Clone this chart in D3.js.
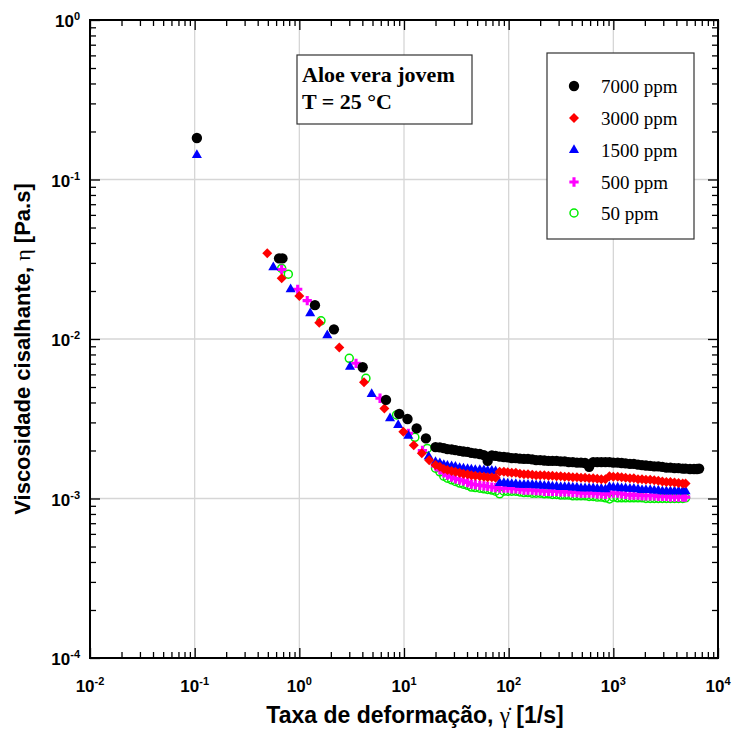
<!DOCTYPE html>
<html>
<head>
<meta charset="utf-8">
<script src="https://cdn.jsdelivr.net/npm/d3@7/dist/d3.min.js"></script>
<style>
  body { margin: 0; background: #fff; }
  svg { display: block; }
</style>
</head>
<body>
<div id="chart"></div>
<script>
// shear rate grid shared by the dense part of every curve [1/s]
const rateDense = [20, 22, 24, 26, 28.5, 31, 34, 37, 40.5, 44,
  48, 53, 58, 63, 69, 75, 82, 90, 98, 107,
  117, 128, 140, 153, 168, 183, 200, 219, 240, 262,
  287, 314, 343, 375, 410, 449, 491, 537, 587, 642,
  702, 768, 840, 918, 1000, 1100, 1200, 1310, 1440, 1570,
  1720, 1880, 2050, 2250, 2460, 2690, 2940, 3210, 3510, 3840,
  4200, 4600, 4900];

// 7000 ppm
const rate7000 = [0.105, 0.64, 0.69, 1.41, 2.14, 4.03, 6.73, 9.0, 10.8, 13.2, 16.2];
const eta7000 = [0.182, 0.032, 0.032, 0.0163, 0.0115, 0.00665, 0.00415, 0.00339, 0.00315, 0.00275, 0.00238];
const etaDense7000 = [0.00210, 0.00209, 0.00207, 0.00204, 0.00203, 0.00201, 0.00199, 0.00197, 0.00196, 0.00193,
  0.00192, 0.00190, 0.00187, 0.00172, 0.00186, 0.00185, 0.00183, 0.00182, 0.00181, 0.00179,
  0.00179, 0.00178, 0.00177, 0.00177, 0.00176, 0.00174, 0.00174, 0.00173, 0.00172, 0.00172,
  0.00172, 0.00171, 0.00171, 0.00169, 0.00169, 0.00168, 0.00168, 0.00167, 0.00158, 0.00169,
  0.00169, 0.00169, 0.00169, 0.00169, 0.00168, 0.00168, 0.00167, 0.00166, 0.00165, 0.00165,
  0.00163, 0.00162, 0.00161, 0.00160, 0.00159, 0.00159, 0.00158, 0.00156, 0.00156, 0.00155,
  0.00155, 0.00154, 0.00154];
const rateTail7000 = [5400, 5900, 6300, 6600];
const etaTail7000 = [0.00153, 0.00153, 0.00153, 0.00154];

// 3000 ppm
const rate3000 = [0.494, 0.678, 1.0, 1.55, 2.41, 4.15, 6.49, 9.85, 12.4, 14.8, 17.4];
const eta3000 = [0.0345, 0.024, 0.0186, 0.01265, 0.00883, 0.00535, 0.00367, 0.00262, 0.00216, 0.00192, 0.00174];
const etaDense3000 = [0.00162, 0.00158, 0.00153, 0.00151, 0.00149, 0.00147, 0.00145, 0.00143, 0.00142, 0.00140,
  0.00139, 0.00138, 0.00137, 0.00136, 0.00136, 0.00135, 0.00147, 0.00147, 0.00146, 0.00145,
  0.00145, 0.00143, 0.00142, 0.00142, 0.00141, 0.00140, 0.00140, 0.00140, 0.00139, 0.00139,
  0.00138, 0.00138, 0.00137, 0.00137, 0.00136, 0.00136, 0.00135, 0.00135, 0.00134, 0.00134,
  0.00133, 0.00132, 0.00132, 0.00138, 0.00137, 0.00137, 0.00136, 0.00135, 0.00134, 0.00134,
  0.00132, 0.00132, 0.00131, 0.00131, 0.00130, 0.00129, 0.00128, 0.00127, 0.00127, 0.00126,
  0.00125, 0.00124, 0.00124];

// 1500 ppm
const rate1500 = [0.105, 0.564, 0.826, 1.27, 1.85, 3.05, 4.91, 7.35, 8.8, 11.0, 17.2];
const eta1500 = [0.1425, 0.0281, 0.0205, 0.0145, 0.01054, 0.0067, 0.00452, 0.00318, 0.00289, 0.00247, 0.00183];
const etaDense1500 = [0.00169, 0.00166, 0.00162, 0.00160, 0.00159, 0.00158, 0.00155, 0.00154, 0.00153, 0.00152,
  0.00151, 0.00151, 0.00150, 0.00149, 0.00149, 0.00148, 0.00125, 0.00125, 0.00124, 0.00123,
  0.00123, 0.00122, 0.00122, 0.00122, 0.00122, 0.00121, 0.00121, 0.00120, 0.00120, 0.00119,
  0.00119, 0.00118, 0.00118, 0.00118, 0.00117, 0.00117, 0.00116, 0.00116, 0.00116, 0.00116,
  0.00115, 0.00115, 0.00114, 0.00118, 0.00117, 0.00117, 0.00116, 0.00116, 0.00115, 0.00115,
  0.00114, 0.00113, 0.00113, 0.00113, 0.00112, 0.00112, 0.00111, 0.00111, 0.00111, 0.00111,
  0.00111, 0.00111, 0.00111];

// 500 ppm
const rate500 = [0.678, 0.964, 1.19, 3.48, 5.9, 11.0, 15.0];
const eta500 = [0.0273, 0.0205, 0.0174, 0.00704, 0.00425, 0.00256, 0.0020];
const etaDense500 = [0.00160, 0.00151, 0.00145, 0.00140, 0.00136, 0.00133, 0.00131, 0.00129, 0.00126, 0.00123,
  0.00122, 0.00121, 0.00120, 0.00119, 0.00118, 0.00117, 0.00116, 0.00116, 0.00116, 0.00115,
  0.00115, 0.00114, 0.00113, 0.00113, 0.00113, 0.00112, 0.00112, 0.00111, 0.00111, 0.00111,
  0.00111, 0.00110, 0.00110, 0.00110, 0.00109, 0.00109, 0.00108, 0.00108, 0.00108, 0.00108,
  0.00107, 0.00107, 0.00106, 0.00108, 0.00108, 0.00108, 0.00107, 0.00106, 0.00105, 0.00105,
  0.00105, 0.00104, 0.00104, 0.00104, 0.00104, 0.00103, 0.00103, 0.00103, 0.00102, 0.00102,
  0.00102, 0.00102, 0.00102];

// 50 ppm
const rate50 = [0.678, 0.785, 1.61, 3.0, 4.33, 8.5, 12.7, 16.7];
const eta50 = [0.0277, 0.0255, 0.0130, 0.00757, 0.00567, 0.00334, 0.00242, 0.00206];
const etaDense50 = [0.00155, 0.00147, 0.00138, 0.00134, 0.00131, 0.00128, 0.00125, 0.00123, 0.00121, 0.00118,
  0.00117, 0.00116, 0.00115, 0.00114, 0.00113, 0.00111, 0.00107, 0.00111, 0.00111, 0.00111,
  0.00111, 0.00110, 0.00109, 0.00109, 0.00108, 0.00108, 0.00108, 0.00107, 0.00107, 0.00106,
  0.00106, 0.00105, 0.00105, 0.00105, 0.00104, 0.00104, 0.00104, 0.00104, 0.00103, 0.00103,
  0.00102, 0.00102, 0.00101, 0.000993, 0.00102, 0.00101, 0.00101, 0.00101, 0.00101, 0.00101,
  0.00101, 0.00101, 0.00100, 0.00100, 0.00100, 0.00100, 0.00100, 0.00100, 0.00100, 0.00100,
  0.00100, 0.00100, 0.00101];

const seriesNames = ["7000 ppm", "3000 ppm", "1500 ppm", "500 ppm", "50 ppm"];
const xMajor = [0.01, 0.1, 1, 10, 100, 1000, 10000];
const yMajor = [0.0001, 0.001, 0.01, 0.1, 1];

const W = 732, H = 729;
const margin = {top: 20, right: 14, bottom: 71, left: 90};

const svg = d3.select("#chart").append("svg")
  .attr("width", W).attr("height", H);
svg.append("rect").attr("width", W).attr("height", H).attr("fill", "#fff");

const x = d3.scaleLog().domain([0.01, 10000]).range([margin.left, W - margin.right]);
const y = d3.scaleLog().domain([0.0001, 1]).range([H - margin.bottom, margin.top]);

const toPts = (r, e) => r.map((v, i) => ({x: v, y: e[i]}));
const series = [
  {name: seriesNames[0], pts: toPts(rate7000.concat(rateDense, rateTail7000), eta7000.concat(etaDense7000, etaTail7000))},
  {name: seriesNames[1], pts: toPts(rate3000.concat(rateDense), eta3000.concat(etaDense3000))},
  {name: seriesNames[2], pts: toPts(rate1500.concat(rateDense), eta1500.concat(etaDense1500))},
  {name: seriesNames[3], pts: toPts(rate500.concat(rateDense), eta500.concat(etaDense500))},
  {name: seriesNames[4], pts: toPts(rate50.concat(rateDense), eta50.concat(etaDense50))}
];

// marker styles
const styles = [
  {type: d3.symbolCircle, size: 84, fill: "#000", stroke: "none", sw: 0, rot: 0},
  {type: d3.symbolSquare, size: 50, fill: "#ff0000", stroke: "none", sw: 0, rot: 45},
  {type: d3.symbolTriangle, size: 44, fill: "#0000ff", stroke: "none", sw: 0, rot: 0},
  {type: d3.symbolCross, size: 48, fill: "#ff00ff", stroke: "none", sw: 0, rot: 0},
  {type: d3.symbolCircle, size: 50, fill: "none", stroke: "#00ee00", sw: 1.5, rot: 0}
];

// grid
const grid = svg.append("g");
grid.selectAll("line.gx").data(xMajor.slice(1, -1)).enter().append("line")
  .attr("x1", d => x(d)).attr("x2", d => x(d))
  .attr("y1", y(1)).attr("y2", y(0.0001))
  .attr("stroke", "#d6d6d6").attr("stroke-width", 1.3);
grid.selectAll("line.gy").data(yMajor.slice(1, -1)).enter().append("line")
  .attr("y1", d => y(d)).attr("y2", d => y(d))
  .attr("x1", x(0.01)).attr("x2", x(10000))
  .attr("stroke", "#d6d6d6").attr("stroke-width", 1.3);

// data, drawn from last series to first so black ends on top
const plot = svg.append("g");
for (let i = series.length - 1; i >= 0; i--) {
  const st = styles[i];
  const sym = d3.symbol().type(st.type).size(st.size);
  plot.append("g").selectAll("path").data(series[i].pts).enter().append("path")
    .attr("d", sym)
    .attr("transform", d => `translate(${x(d.x)},${y(d.y)}) rotate(${st.rot})`)
    .attr("fill", st.fill).attr("stroke", st.stroke).attr("stroke-width", st.sw);
}

// axes with inward ticks on all four sides
let minorX = [], minorY = [];
xMajor.slice(0, -1).forEach(d => { for (let k = 2; k < 10; k++) minorX.push(d * k); });
yMajor.slice(0, -1).forEach(d => { for (let k = 2; k < 10; k++) minorY.push(d * k); });

function addAxis(axisFn, scale, vals, len, tf) {
  svg.append("g").attr("transform", tf)
    .call(axisFn(scale).tickValues(vals).tickSize(-len).tickFormat(""))
    .call(g => g.select(".domain").remove())
    .call(g => g.selectAll(".tick line").attr("stroke", "#000").attr("stroke-width", 1.3));
}
const bottomY = y(0.0001), topY = y(1), leftX = x(0.01), rightX = x(10000);
addAxis(d3.axisBottom, x, xMajor, 10, `translate(0,${bottomY})`);
addAxis(d3.axisBottom, x, minorX, 6, `translate(0,${bottomY})`);
addAxis(d3.axisTop, x, xMajor, 10, `translate(0,${topY})`);
addAxis(d3.axisTop, x, minorX, 6, `translate(0,${topY})`);
addAxis(d3.axisLeft, y, yMajor, 10, `translate(${leftX},0)`);
addAxis(d3.axisLeft, y, minorY, 6, `translate(${leftX},0)`);
addAxis(d3.axisRight, y, yMajor, 10, `translate(${rightX},0)`);
addAxis(d3.axisRight, y, minorY, 6, `translate(${rightX},0)`);

svg.append("rect")
  .attr("x", leftX).attr("y", topY)
  .attr("width", rightX - leftX).attr("height", bottomY - topY)
  .attr("fill", "none").attr("stroke", "#000").attr("stroke-width", 2);

// tick labels 10^n
const labFont = "'Liberation Sans', Arial, sans-serif";
xMajor.forEach(d => {
  const t = svg.append("text")
    .attr("x", x(d)).attr("y", 692)
    .attr("text-anchor", "middle")
    .attr("font-family", labFont).attr("font-weight", "bold").attr("font-size", 17);
  t.append("tspan").text("10");
  t.append("tspan").attr("dy", -7).attr("font-size", 11).text(Math.round(Math.log10(d)));
});
yMajor.forEach(d => {
  const t = svg.append("text")
    .attr("x", 80).attr("y", y(d) + 7)
    .attr("text-anchor", "end")
    .attr("font-family", labFont).attr("font-weight", "bold").attr("font-size", 17);
  t.append("tspan").text("10");
  t.append("tspan").attr("dy", -7).attr("font-size", 11).text(Math.round(Math.log10(d)));
});

// axis titles
const xt = svg.append("text")
  .attr("x", 415).attr("y", 723)
  .attr("text-anchor", "middle")
  .attr("font-family", labFont).attr("font-weight", "bold").attr("font-size", 23);
xt.append("tspan").text("Taxa de deformação, ");
xt.append("tspan").attr("font-weight", "normal").attr("font-family", "'Liberation Serif', serif").text("\u03B3\u0307");
xt.append("tspan").text(" [1/s]");

const yt = svg.append("text")
  .attr("transform", `translate(30,${(topY + bottomY) / 2 + 10}) rotate(-90)`)
  .attr("text-anchor", "middle")
  .attr("font-family", labFont).attr("font-weight", "bold").attr("font-size", 22);
yt.append("tspan").text("Viscosidade cisalhante, ");
yt.append("tspan").attr("font-weight", "normal").attr("font-family", "'Liberation Serif', serif").text("\u03B7");
yt.append("tspan").text(" [Pa.s]");

// annotation box
const serif = "'Liberation Serif', 'Times New Roman', serif";
svg.append("rect").attr("x", 297).attr("y", 55).attr("width", 175).attr("height", 69)
  .attr("fill", "#fff").attr("stroke", "#333").attr("stroke-width", 1.2);
svg.append("text").attr("x", 302).attr("y", 82)
  .attr("font-family", serif).attr("font-weight", "bold").attr("font-size", 22)
  .text("Aloe vera jovem");
svg.append("text").attr("x", 302).attr("y", 109)
  .attr("font-family", serif).attr("font-weight", "bold").attr("font-size", 22)
  .text("T = 25 \u00B0C");

// legend
const lg = svg.append("g");
lg.append("rect").attr("x", 547).attr("y", 53).attr("width", 147).attr("height", 186)
  .attr("fill", "#fff").attr("stroke", "#333").attr("stroke-width", 1.2);
const rowY = [86, 118, 150, 182, 213];
seriesNames.forEach((n, i) => {
  const st = styles[i];
  lg.append("path")
    .attr("d", d3.symbol().type(st.type).size(st.size)())
    .attr("transform", `translate(574,${rowY[i]}) rotate(${st.rot})`)
    .attr("fill", st.fill).attr("stroke", st.stroke).attr("stroke-width", st.sw);
  lg.append("text").attr("x", 601).attr("y", rowY[i] + 7)
    .attr("font-family", serif).attr("font-size", 19)
    .text(n);
});
</script>
</body>
</html>
